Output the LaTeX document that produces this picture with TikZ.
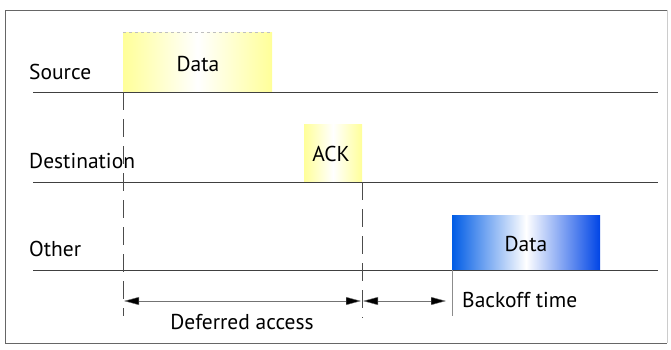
\documentclass[tikz,border=0pt]{standalone}
\usepackage{fontspec}
\setmainfont{PT Sans}
\usetikzlibrary{arrows.meta}
\begin{document}
\begin{tikzpicture}[x=1pt,y=-1pt,
  lbl/.style={font=\fontsize{21.5}{24}\selectfont, inner sep=0pt},
  tline/.style={draw=black!75, line width=0.9pt},
  vdash/.style={draw=black!70, line width=0.8pt, dash pattern=on 18pt off 9pt},
  dimarrow/.style={draw=black!55, line width=0.6pt, {Triangle[length=15pt,width=8pt,fill=black,line width=0.4pt]}-{Triangle[length=15pt,width=8pt,fill=black,line width=0.4pt]}},
  ybox/.style={left color=yellow!40, right color=yellow!40, middle color=white, draw=none},
  bbox/.style={left color=blue!60!cyan!90!black, right color=blue!70!cyan!90!black, middle color=white, draw=none}
]
\useasboundingbox (0,0) rectangle (671,349);
\fill[white] (0,0) rectangle (671,349);
% frame
\draw[black!60, line width=0.9pt] (5,10) -- (667,10);
\draw[black!60, line width=0.9pt] (5,10) -- (5,343) -- (667,343);
\draw[black!20, line width=0.6pt] (667,10) -- (667,343);
% boxes
\shade[ybox] (123,32) rectangle (272,92);
\draw[black!25, dashed] (123,32) -- (272,32);
\shade[ybox] (304,124) rectangle (362,182);
\shade[bbox] (452,215) rectangle (600,270);
% time lines
\coordinate (s0) at (33,92); \coordinate (s1) at (658,92);
\coordinate (d0) at (33,182); \coordinate (d1) at (658,182);
\coordinate (o0) at (33,270); \coordinate (o1) at (658,270);
\draw[tline] (s0) -- (s1);
\draw[tline] (d0) -- (d1);
\draw[tline] (o0) -- (o1);
% labels
\node[lbl, anchor=west] (src) at (29,72) {Source};
\node[lbl, anchor=west] (dst) at (29,161) {Destination};
\node[lbl, anchor=west] (oth) at (29,249) {Other};
\node[lbl] (d1lbl) at (198,64) {Data};
\node[lbl] (ack) at (331,154) {ACK};
\node[lbl] (d2lbl) at (526,244) {Data};
% vertical markers
\coordinate (v1t) at (123,92); \coordinate (v1b) at (123,316);
\coordinate (v2t) at (362,182); \coordinate (v2b) at (362,318);
\coordinate (v3t) at (452,270); \coordinate (v3b) at (452,316);
\draw[vdash] (v1t) -- (v1b);
\draw[vdash] (v2t) -- (v2b);
\draw[black!45, line width=0.7pt] (v3t) -- (v3b);
% dimension arrows
\coordinate (a1) at (124,301); \coordinate (a2) at (361,301);
\coordinate (a3) at (363,301); \coordinate (a4) at (446,301);
\draw[dimarrow] (a1) -- (a2);
\draw[dimarrow] (a3) -- (a4);
\node[lbl] (def) at (242,322) {Deferred access};
\node[lbl, anchor=west] (bo) at (462,300) {Backoff time};
\end{tikzpicture}
\end{document}
